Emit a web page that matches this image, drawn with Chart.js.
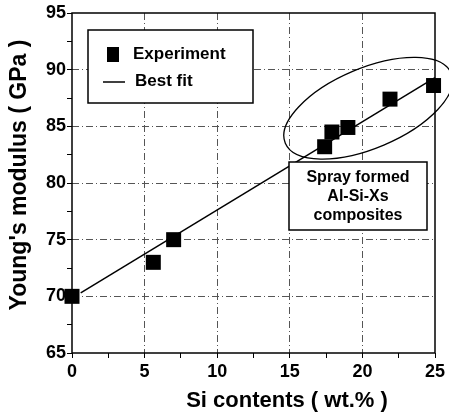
<!DOCTYPE html>
<html>
<head>
<meta charset="utf-8">
<script src="https://cdn.jsdelivr.net/npm/chart.js@4/dist/chart.umd.min.js"></script>
<style>
  html, body { margin: 0; padding: 0; background: #fff; }
  #wrap { width: 449px; height: 419px; }
</style>
</head>
<body>
<div id="wrap"><canvas id="modulusChart" width="449" height="419"></canvas></div>
<script>
// measured Young's modulus vs Si content
const siContent = [0, 5.6, 7, 17.4, 17.9, 19, 21.9, 24.9];
const modulus = [70, 73, 75, 83.2, 84.5, 84.9, 87.4, 88.6];

// best fit line end points
const fitX = [0.6, 25];
const fitY = [70.3, 89.3];

const xTicks = [0, 5, 10, 15, 20, 25];
const yTicks = [65, 70, 75, 80, 85, 90, 95];

const groupLabel = ['Spray formed', 'Al-Si-Xs', 'composites'];
const groupCenter = { x: 20.4, y: 86.6 };

const FONT = 'Arial, "Liberation Sans", sans-serif';

const toPoints = (xs, ys) => xs.map((x, i) => ({ x: x, y: ys[i] }));

const isMajor = (v, list) => list.indexOf(v) !== -1;

// frame, legend, ellipse, text box and axis titles
const extras = {
  id: 'extras',
  beforeDatasetsDraw(chart) {
    const { ctx, chartArea: a } = chart;
    ctx.save();
    ctx.strokeStyle = '#000';
    ctx.lineWidth = 1.5;
    ctx.strokeRect(a.left, a.top, a.right - a.left, a.bottom - a.top);
    ctx.restore();
  },
  afterDatasetsDraw(chart) {
    const { ctx, chartArea: a, scales } = chart;
    const sets = chart.data.datasets;
    ctx.save();

    // legend box
    const lx = a.left + 16, ly = a.top + 17;
    ctx.fillStyle = '#fff';
    ctx.fillRect(lx, ly, 165, 73);
    ctx.strokeStyle = '#000';
    ctx.lineWidth = 1.5;
    ctx.strokeRect(lx, ly, 165, 73);
    ctx.fillStyle = '#000';
    ctx.fillRect(lx + 19, ly + 17, 12, 15);
    ctx.beginPath();
    ctx.moveTo(lx + 15, ly + 52);
    ctx.lineTo(lx + 37, ly + 52);
    ctx.stroke();
    ctx.font = 'bold 17px ' + FONT;
    ctx.textBaseline = 'middle';
    ctx.textAlign = 'left';
    ctx.fillText(sets[0].label, lx + 45, ly + 24);
    ctx.fillText(sets[1].label, lx + 47, ly + 51);

    // ellipse round the spray formed group
    const cx = scales.x.getPixelForValue(groupCenter.x);
    const cy = scales.y.getPixelForValue(groupCenter.y);
    ctx.beginPath();
    ctx.ellipse(cx, cy, 90, 40, -0.40, 0, Math.PI * 2);
    ctx.lineWidth = 1.3;
    ctx.stroke();

    // text box
    const bx = a.left + 217, by = a.top + 149;
    ctx.fillStyle = '#fff';
    ctx.fillRect(bx, by, 138, 68);
    ctx.lineWidth = 1.5;
    ctx.strokeRect(bx, by, 138, 68);
    ctx.fillStyle = '#000';
    ctx.font = 'bold 16px ' + FONT;
    ctx.textAlign = 'center';
    groupLabel.forEach((t, i) => ctx.fillText(t, bx + 69, by + 16 + i * 19));

    ctx.restore();
  },
  afterDraw(chart) {
    const { ctx, chartArea: a } = chart;
    ctx.save();
    ctx.fillStyle = '#000';
    ctx.textAlign = 'center';
    ctx.textBaseline = 'middle';
    ctx.font = 'bold 22px ' + FONT;
    ctx.fillText(chart.options.scales.x.title.text, 287, 401);
    ctx.font = 'bold 23px ' + FONT;
    ctx.translate(20, (a.top + a.bottom) / 2 - 8);
    ctx.rotate(-Math.PI / 2);
    ctx.fillText(chart.options.scales.y.title.text, 0, 0);
    ctx.restore();
  }
};

new Chart(document.getElementById('modulusChart'), {
  type: 'scatter',
  data: {
    datasets: [{
      label: 'Experiment',
      data: toPoints(siContent, modulus),
      pointStyle: 'rect',
      pointRadius: 10.6,
      pointHoverRadius: 10.6,
      backgroundColor: '#000',
      borderColor: '#000',
      borderWidth: 0,
      clip: false,
      order: 0
    }, {
      label: 'Best fit',
      type: 'line',
      data: toPoints(fitX, fitY),
      borderColor: '#000',
      borderWidth: 1.5,
      pointRadius: 0,
      fill: false,
      clip: false,
      order: 1
    }]
  },
  options: {
    responsive: false,
    animation: false,
    layout: { padding: { top: 13, right: 14, left: 0, bottom: 0 } },
    plugins: { legend: { display: false }, tooltip: { enabled: false } },
    scales: {
      x: {
        type: 'linear',
        min: 0,
        max: 25,
        title: { display: false, text: 'Si contents ( wt.% )' },
        afterFit: (s) => { s.height = 66; },
        ticks: {
          stepSize: 2.5,
          autoSkip: false,
          maxRotation: 0,
          padding: 3,
          color: '#000',
          font: { family: FONT, size: 18, weight: 'bold' },
          callback: (v) => isMajor(v, xTicks) ? v : ''
        },
        border: { display: false, dash: [7, 3, 1, 3] },
        grid: {
          tickLength: 5,
          tickColor: '#000',
          lineWidth: 1,
          color: (c) => (c.tick && isMajor(c.tick.value, xTicks) && c.tick.value > 0 && c.tick.value < 25) ? '#555' : 'rgba(0,0,0,0)'
        }
      },
      y: {
        min: 65,
        max: 95,
        title: { display: false, text: "Young's modulus ( GPa )" },
        afterFit: (s) => { s.width = 72; },
        ticks: {
          stepSize: 2.5,
          autoSkip: false,
          padding: 1,
          color: '#000',
          font: { family: FONT, size: 18, weight: 'bold' },
          callback: (v) => isMajor(v, yTicks) ? v : ''
        },
        border: { display: false, dash: [7, 3, 1, 3] },
        grid: {
          tickLength: 5,
          tickColor: '#000',
          lineWidth: 1,
          color: (c) => (c.tick && isMajor(c.tick.value, yTicks) && c.tick.value > 65 && c.tick.value < 95) ? '#555' : 'rgba(0,0,0,0)'
        }
      }
    }
  },
  plugins: [extras]
});
</script>
</body>
</html>
